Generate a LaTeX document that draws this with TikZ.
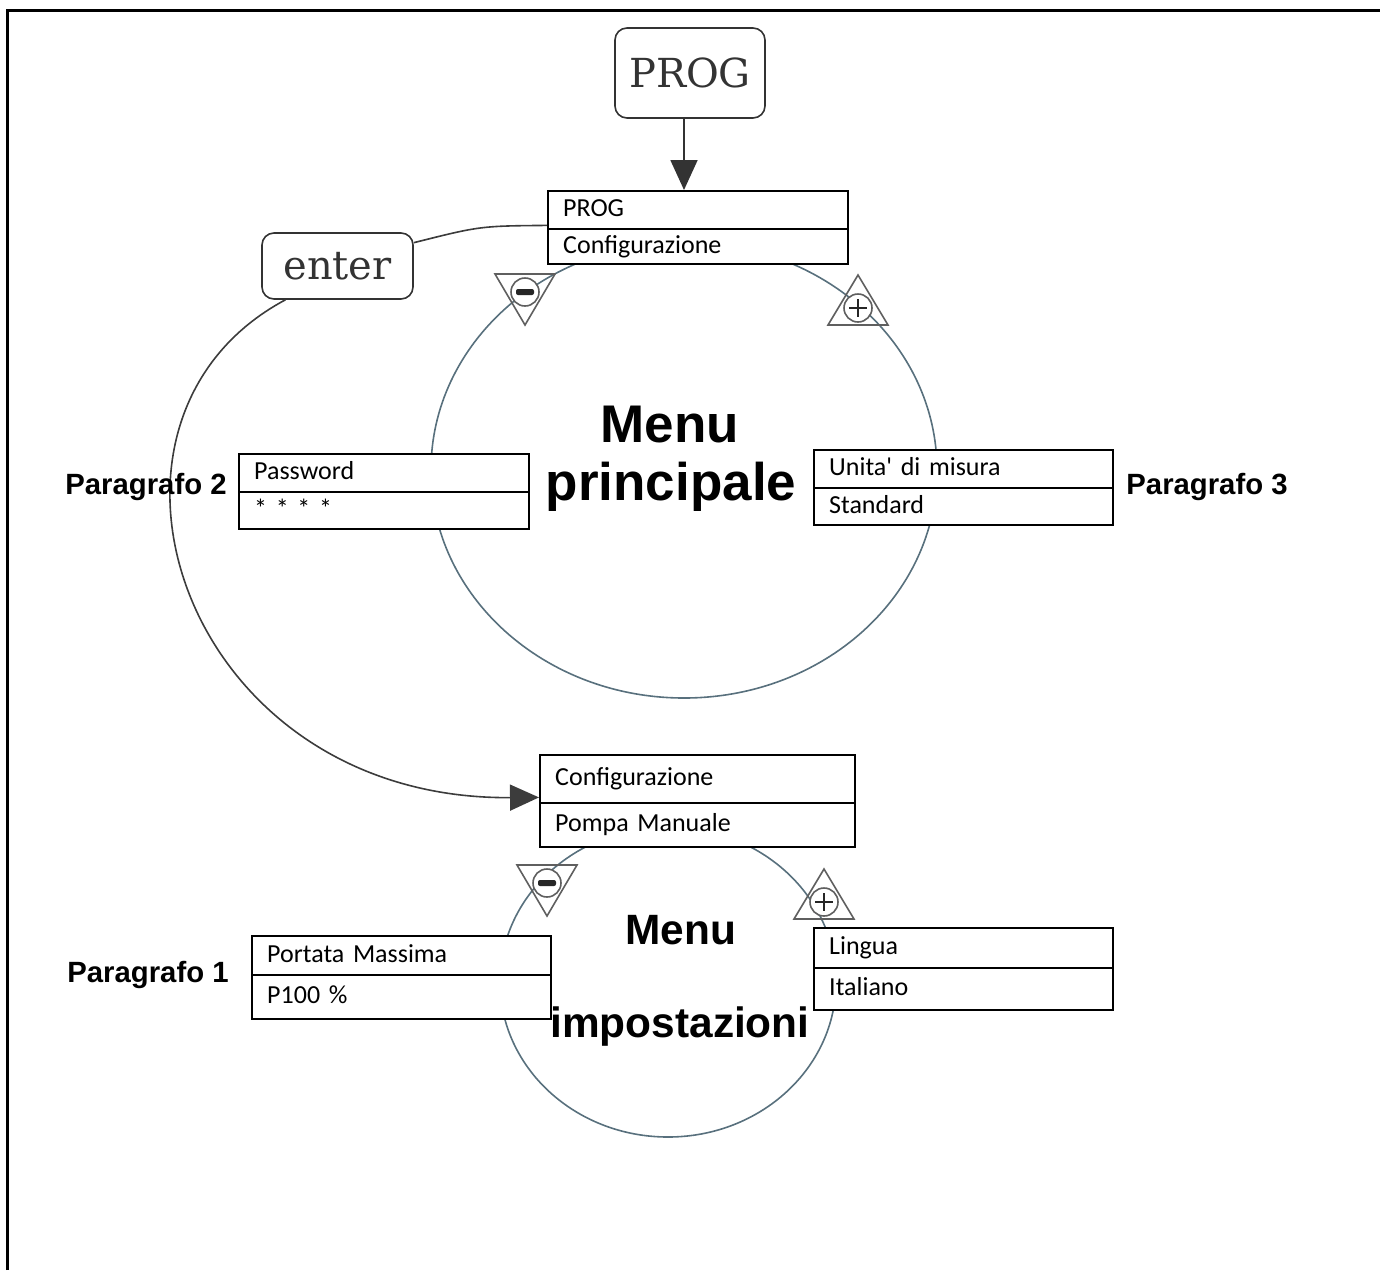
\documentclass[tikz,border=0pt]{standalone}
\usepackage{fontspec}
\setmainfont{Liberation Sans}
\newfontfamily\carlito{Carlito}
\newfontfamily\slabfont{DejaVu Serif}
\usetikzlibrary{arrows.meta}
\definecolor{arccol}{RGB}{88,112,125}
\definecolor{tricol}{RGB}{95,95,95}
\definecolor{btncol}{RGB}{51,51,51}
\definecolor{linkcol}{RGB}{60,60,60}
\begin{document}
\begin{tikzpicture}[x=0.5pt,y=-0.5pt,
  row/.style={draw, line width=1.2pt, fill=white, anchor=north west, inner xsep=7.5pt, inner ysep=0pt, align=left, font=\carlito\fontsize{13}{15}\selectfont, text height=9pt, text depth=2.5pt},
  btn/.style={draw=btncol, line width=0.8pt, rounded corners=6pt, text=btncol, font=\slabfont\fontsize{20}{24}\selectfont, inner sep=0pt},
  para/.style={anchor=base west, inner sep=0pt, font=\bfseries\fontsize{14.65}{17}\selectfont},
  bigmenu/.style={anchor=base, font=\bfseries\fontsize{26.5}{30}\selectfont},
  smallmenu/.style={anchor=base, font=\bfseries\fontsize{21.2}{25}\selectfont},
  arcline/.style={draw=arccol, line width=0.8pt},
  link/.style={draw=linkcol, line width=0.8pt},
  minustri/.pic={
    \draw[draw=tricol, line width=0.8pt] (-30,-18) -- (30,-18) -- (0,33) -- cycle;
    \draw[draw=tricol, line width=0.8pt, fill=white] (0,0) circle[radius=7pt];
    \fill[black!85, rounded corners=1pt] (-9,-3) rectangle (9,3);
  },
  plustri/.pic={
    \draw[draw=tricol, line width=0.8pt] (-30,17) -- (30,17) -- (0,-33) -- cycle;
    \draw[draw=tricol, line width=0.8pt, fill=white] (0,0) circle[radius=7pt];
    \draw[black!85, line width=0.75pt] (-9,0) -- (9,0) (0,-9) -- (0,9);
  }
]
\useasboundingbox (0,0) rectangle (1380,1270);
% frame
\draw[line width=1.5pt] (7,1270) -- (7,10) -- (1380,10);

% menu cycles
\draw[arcline] (684,470) ellipse [x radius=126.5pt, y radius=114pt];
\draw[arcline] (668,982) ellipse [x radius=84pt, y radius=77.5pt];

% +/- symbols
\pic at (525,292) {minustri};
\pic at (858,308) {plustri};
\pic at (547,883) {minustri};
\pic at (824,902) {plustri};

% buttons
\node[btn, minimum width=75pt, minimum height=45pt] (prog) at (690,73) {PROG};
\node[btn, minimum width=75.5pt, minimum height=33pt] (enter) at (337.5,266) {enter};

% boxes
\node[row, text width=135pt, minimum height=19pt] (b1a) at (547,190) {PROG};
\node[row, text width=135pt, minimum height=17.5pt] (b1b) at (547,228) {Configurazione};

\node[row, text width=130pt, minimum height=19pt] (pwa) at (238,453) {Password};
\node[row, text width=130pt, minimum height=18.5pt] (pwb) at (238,491) {* * * *};

\node[row, text width=134.5pt, minimum height=19pt] (una) at (813,449) {Unita' di misura};
\node[row, text width=134.5pt, minimum height=18.5pt] (unb) at (813,487) {Standard};

\node[row, text width=142.5pt, minimum height=24pt] (c2a) at (539,754) {Configurazione};
\node[row, text width=142.5pt, minimum height=22pt] (c2b) at (539,802) {Pompa Manuale};

\node[row, text width=134.5pt, minimum height=19.5pt] (pma) at (251,935) {Portata Massima};
\node[row, text width=134.5pt, minimum height=22pt] (pmb) at (251,974) {P100 \%};

\node[row, text width=134.5pt, minimum height=20pt] (lia) at (813,927) {Lingua};
\node[row, text width=134.5pt, minimum height=21pt] (lib) at (813,967) {Italiano};

% connectors
\draw[btncol, line width=0.9pt, -{Triangle[width=13.5pt,length=15pt]}] ([xshift=-3pt]prog.south) -- ([xshift=-3pt]prog.south |- b1a.north);
\draw[link] ([yshift=2.5pt]b1a.south west) .. controls (480,226) .. (enter.17);
\draw[link, -{Triangle[width=13pt,length=14.5pt]}] (enter.213) .. controls (60,420) and (180,800) .. ([yshift=3.5pt]c2a.south west);

% labels
\node[para] (p2) at (65,494) {Paragrafo 2};
\node[para] (p3) at (1126,494) {Paragrafo 3};
\node[para] (p1) at (67,982) {Paragrafo 1};

\node[bigmenu] (mp1) at (670,442) {Menu};
\node[bigmenu] (mp2) at (671,500) {principale};
\node[smallmenu] (mi1) at (681,944) {Menu};
\node[smallmenu] (mi2) at (680,1037) {impostazioni};
\end{tikzpicture}
\end{document}
